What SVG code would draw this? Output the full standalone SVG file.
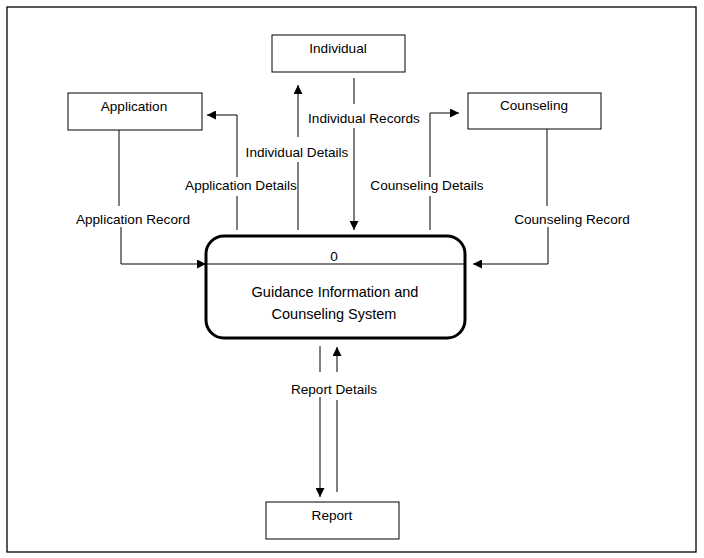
<svg xmlns="http://www.w3.org/2000/svg" width="704" height="558" viewBox="0 0 704 558">
<style>
.box{fill:#fff;stroke:#000;stroke-width:1}
.t{font-family:"Liberation Sans",Arial,sans-serif;font-size:13.6px;fill:#000;text-anchor:middle}
.c{fill:none;stroke:#000;stroke-width:1}
</style>
<defs>
<marker id="ah" viewBox="0 0 10 10" refX="10" refY="5" markerWidth="9" markerHeight="9" markerUnits="userSpaceOnUse" orient="auto">
<path d="M0,0 L10,5 L0,10 z" fill="#000"/>
</marker>
</defs>
<rect width="704" height="558" fill="#fff"/>
<rect x="7" y="7" width="689" height="545" fill="none" stroke="#000" stroke-width="1.3"/>
<g id="connectors">
<path class="c" d="M119,130 V206"/>
<path class="c" d="M121,227 V264 H206" marker-end="url(#ah)"/>
<text class="t" x="133" y="224">Application Record</text>
<path class="c" d="M237,230 V196"/>
<path class="c" d="M237,177 V115 H207" marker-end="url(#ah)"/>
<text class="t" x="241" y="190">Application Details</text>
<path class="c" d="M298,230 V162"/>
<path class="c" d="M298,137 V85" marker-end="url(#ah)"/>
<text class="t" x="297" y="157">Individual Details</text>
<path class="c" d="M354,78 V104"/>
<path class="c" d="M354,128 V230" marker-end="url(#ah)"/>
<text class="t" x="364" y="123">Individual Records</text>
<path class="c" d="M430,230 V196"/>
<path class="c" d="M430,177 V113 H459" marker-end="url(#ah)"/>
<text class="t" x="427" y="190">Counseling Details</text>
<path class="c" d="M547,129 V206"/>
<path class="c" d="M548,227 V264 H473" marker-end="url(#ah)"/>
<text class="t" x="572" y="224">Counseling Record</text>
<path class="c" d="M320,346 V372"/>
<path class="c" d="M320,397 V497" marker-end="url(#ah)"/>
<path class="c" d="M337,492 V400"/>
<path class="c" d="M337,372 V347" marker-end="url(#ah)"/>
<text class="t" x="334" y="394">Report Details</text>
</g>
<g id="process">
<rect x="206" y="236" width="259" height="102" rx="18" ry="18" fill="#fff" stroke="#000" stroke-width="3"/>
<line x1="206" y1="264" x2="465" y2="264" stroke="#000" stroke-width="1"/>
<text class="t" x="334" y="261">0</text>
<text class="t" x="335" y="297" style="font-size:14.5px">Guidance Information and</text>
<text class="t" x="334" y="319" style="font-size:14.5px">Counseling System</text>
</g>
<g id="individual">
<rect class="box" x="272" y="35" width="133" height="37"/>
<text class="t" x="338" y="53">Individual</text>
</g>
<g id="application">
<rect class="box" x="68" y="93" width="134" height="37"/>
<text class="t" x="134" y="111">Application</text>
</g>
<g id="counseling">
<rect class="box" x="468" y="93" width="133" height="36"/>
<text class="t" x="534" y="110">Counseling</text>
</g>
<g id="report">
<rect class="box" x="266" y="502" width="133" height="37"/>
<text class="t" x="332" y="520">Report</text>
</g>
</svg>
